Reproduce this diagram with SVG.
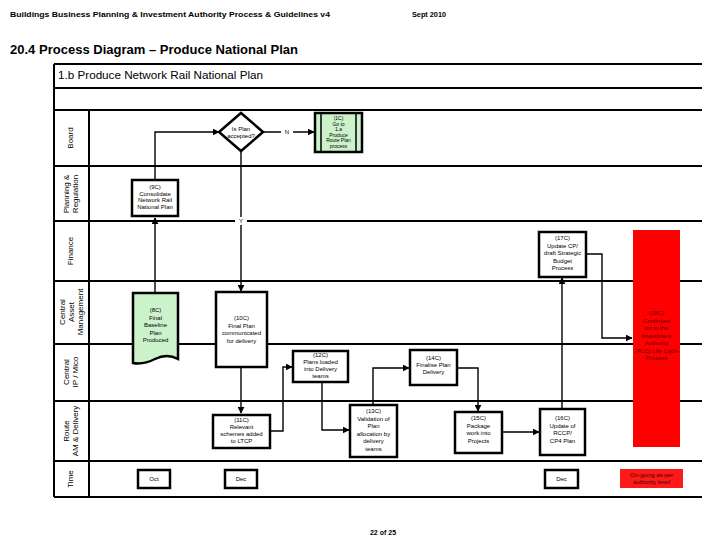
<svg xmlns="http://www.w3.org/2000/svg" width="702" height="539" viewBox="0 0 702 539">
<style>
text{font-family:"Liberation Sans",Arial,sans-serif;fill:#000}
.hdr{font-size:7px;font-weight:bold}
.lane{font-size:8px;text-anchor:middle}
.nt{font-size:6px;text-anchor:middle}
.box{fill:#fff;stroke:#000;stroke-width:2.5}
.frame{stroke:#000;stroke-width:2;fill:none}
.conn{stroke:#000;stroke-width:1.4;fill:none}
</style>
<defs>
<marker id="arr" viewBox="0 0 10 10" refX="9" refY="5" markerWidth="5" markerHeight="5" orient="auto">
<path d="M0,0 L10,5 L0,10 Z" fill="#000"/>
</marker>
</defs>
<rect width="702" height="539" fill="#fff"/>
<text class="hdr" x="10" y="17" textLength="320" lengthAdjust="spacingAndGlyphs">Buildings Business Planning &amp; Investment Authority Process &amp; Guidelines v4</text>
<text class="hdr" x="412" y="17" textLength="34" lengthAdjust="spacingAndGlyphs">Sept 2010</text>
<text x="10" y="54" style="font-size:13px;font-weight:bold" textLength="288" lengthAdjust="spacingAndGlyphs">20.4  Process Diagram – Produce National Plan</text>
<text x="383" y="535" style="font-size:7px;font-weight:bold;text-anchor:middle">22 of 25</text>

<g id="frame">
<path class="frame" d="M54,64 H703 M54,88 H703 M54,110 H703 M54,166 H703 M54,221 H703 M54,281 H703 M54,344 H703 M54,401 H703 M54,461 H703 M54,497 H703 M54,64 V497 M89,110 V497" />
<text x="58" y="79" style="font-size:11px" textLength="205" lengthAdjust="spacingAndGlyphs">1.b  Produce Network Rail National Plan</text>
</g>
<g id="lanes">
<text class="lane" transform="translate(73,138) rotate(-90)">Board</text>
<text class="lane" transform="translate(69,194) rotate(-90)">Planning &amp;<tspan x="0" dy="9">Regulation</tspan></text>
<text class="lane" transform="translate(73,251) rotate(-90)">Finance</text>
<text class="lane" transform="translate(65,312) rotate(-90)">Central<tspan x="0" dy="9">Asset</tspan><tspan x="0" dy="9">Management</tspan></text>
<text class="lane" transform="translate(69,372) rotate(-90)">Central<tspan x="0" dy="9">IP / Mico</tspan></text>
<text class="lane" transform="translate(69,431) rotate(-90)">Route<tspan x="0" dy="9">AM &amp; Delivery</tspan></text>
<text class="lane" transform="translate(73,479) rotate(-90)">Time</text>
</g>

<g id="connectors">
<path class="conn" d="M155,180 V132 H219" marker-end="url(#arr)"/>
<path class="conn" d="M263,132 H314" marker-end="url(#arr)"/>
<path class="conn" d="M241,151 V291" marker-end="url(#arr)"/>
<path class="conn" d="M155,293 V218" marker-end="url(#arr)"/>
<path class="conn" d="M241,367 V413" marker-end="url(#arr)"/>
<path class="conn" d="M270,431 H283 V367 H292" marker-end="url(#arr)"/>
<path class="conn" d="M322,382 V430 H349" marker-end="url(#arr)"/>
<path class="conn" d="M373,405 V368 H409" marker-end="url(#arr)"/>
<path class="conn" d="M457,368 H478 V411" marker-end="url(#arr)"/>
<path class="conn" d="M502,432 H539" marker-end="url(#arr)"/>
<path class="conn" d="M562,409 V278" marker-end="url(#arr)"/>
<path class="conn" d="M586,254 H602 V338 H632" marker-end="url(#arr)"/>
<rect x="281" y="128" width="12" height="8" fill="#fff"/>
<text class="nt" x="287" y="134">N</text>
<rect x="235" y="217" width="12" height="8" fill="#fff"/>
<text class="nt" x="241" y="223">Y</text>
</g>

<g id="decision">
<path class="box" d="M241,113 L263,132 L241,151 L219,132 Z" stroke-width="2.5"/>
<text class="nt" x="241" y="131">Is Plan<tspan x="241" dy="6.5">accepted?</tspan></text>
</g>
<g id="goto">
<rect x="315" y="113" width="47" height="39" fill="#ccf2cc" stroke="#000" stroke-width="2.5"/>
<path d="M321,113 V152 M356,113 V152" stroke="#000" stroke-width="1.5"/>
<text class="nt" x="338.5" y="120" style="font-size:5px">(1C)<tspan x="338.5" dy="5.5">Go to</tspan><tspan x="338.5" dy="5.5">1.a</tspan><tspan x="338.5" dy="5.5">Produce</tspan><tspan x="338.5" dy="5.5">Route Plan</tspan><tspan x="338.5" dy="5.5">process</tspan></text>
</g>
<g id="consolidate">
<rect class="box" x="132" y="180" width="46" height="36"/>
<text class="nt" x="155" y="189">(9C)<tspan x="155" dy="6.5">Consolidate</tspan><tspan x="155" dy="6.5">Network Rail</tspan><tspan x="155" dy="6.5">National Plan</tspan></text>
</g>
<g id="baseline">
<path d="M133,293 H178 V359 Q167,353 155,359 T133,363 Z" fill="#ccf2cc" stroke="#000" stroke-width="2.5"/>
<text class="nt" x="155.5" y="312">(8C)<tspan x="155.5" dy="7.5">Final</tspan><tspan x="155.5" dy="7.5">Baseline</tspan><tspan x="155.5" dy="7.5">Plan</tspan><tspan x="155.5" dy="7.5">Produced</tspan></text>
</g>
<g id="finalplan">
<rect class="box" x="216" y="292" width="51" height="75"/>
<text class="nt" x="241.5" y="320">(10C)<tspan x="241.5" dy="7.5">Final Plan</tspan><tspan x="241.5" dy="7.5">communicated</tspan><tspan x="241.5" dy="7.5">for delivery</tspan></text>
</g>
<g id="relevant">
<rect class="box" x="213" y="415" width="57" height="33"/>
<text class="nt" x="241.5" y="422">(11C)<tspan x="241.5" dy="7">Relevant</tspan><tspan x="241.5" dy="7">schemes added</tspan><tspan x="241.5" dy="7">to LTCP</tspan></text>
</g>
<g id="plansloaded">
<rect class="box" x="293" y="351" width="55" height="31"/>
<text class="nt" x="320.5" y="357">(12C)<tspan x="320.5" dy="7">Plans loaded</tspan><tspan x="320.5" dy="7">into Delivery</tspan><tspan x="320.5" dy="7">teams</tspan></text>
</g>
<g id="validation">
<rect class="box" x="350" y="405" width="47" height="52"/>
<text class="nt" x="373.5" y="413">(13C)<tspan x="373.5" dy="7.5">Validation of</tspan><tspan x="373.5" dy="7.5">Plan</tspan><tspan x="373.5" dy="7.5">allocation by</tspan><tspan x="373.5" dy="7.5">delivery</tspan><tspan x="373.5" dy="7.5">teams</tspan></text>
</g>
<g id="finalise">
<rect class="box" x="410" y="350" width="47" height="35"/>
<text class="nt" x="433.5" y="360">(14C)<tspan x="433.5" dy="7">Finalise Plan</tspan><tspan x="433.5" dy="7">Delivery</tspan></text>
</g>
<g id="package">
<rect class="box" x="455" y="412" width="47" height="41"/>
<text class="nt" x="478.5" y="420">(15C)<tspan x="478.5" dy="7.5">Package</tspan><tspan x="478.5" dy="7.5">work into</tspan><tspan x="478.5" dy="7.5">Projects</tspan></text>
</g>
<g id="updateof">
<rect class="box" x="540" y="409" width="45" height="46"/>
<text class="nt" x="562.5" y="420">(16C)<tspan x="562.5" dy="7.5">Update of</tspan><tspan x="562.5" dy="7.5">RCCP/</tspan><tspan x="562.5" dy="7.5">CP4 Plan</tspan></text>
</g>
<g id="updatecp">
<rect class="box" x="539" y="232" width="47" height="45"/>
<text class="nt" x="562.5" y="240">(17C)<tspan x="562.5" dy="7.5">Update CP/</tspan><tspan x="562.5" dy="7.5">draft Strategic</tspan><tspan x="562.5" dy="7.5">Budget</tspan><tspan x="562.5" dy="7.5">Process</tspan></text>
</g>
<g id="continued">
<rect x="633" y="230" width="47" height="217" fill="#ff0000"/>
<text class="nt" x="656.5" y="315" style="fill:#5a0000">(18C)<tspan x="656.5" dy="7.5">Continued</tspan><tspan x="656.5" dy="7.5">on to the</tspan><tspan x="656.5" dy="7.5">Investment</tspan><tspan x="656.5" dy="7.5">Authority</tspan><tspan x="656.5" dy="7.5">(PLC) Life Cycle</tspan><tspan x="656.5" dy="7.5">Process</tspan></text>
</g>
<g id="time-oct">
<rect class="box" x="138" y="470" width="32" height="18"/>
<text class="nt" x="154" y="481">Oct</text>
</g>
<g id="time-dec1">
<rect class="box" x="225" y="470" width="32" height="18"/>
<text class="nt" x="241" y="481">Dec</text>
</g>
<g id="time-dec2">
<rect class="box" x="545" y="470" width="33" height="18"/>
<text class="nt" x="561.5" y="481">Dec</text>
</g>
<g id="time-ongoing">
<rect x="620" y="469" width="63" height="19" fill="#ff1a1a"/>
<text class="nt" x="651.5" y="477" style="fill:#400">On-going as per<tspan x="651.5" dy="6.5">authority level</tspan></text>
</g>
</svg>
